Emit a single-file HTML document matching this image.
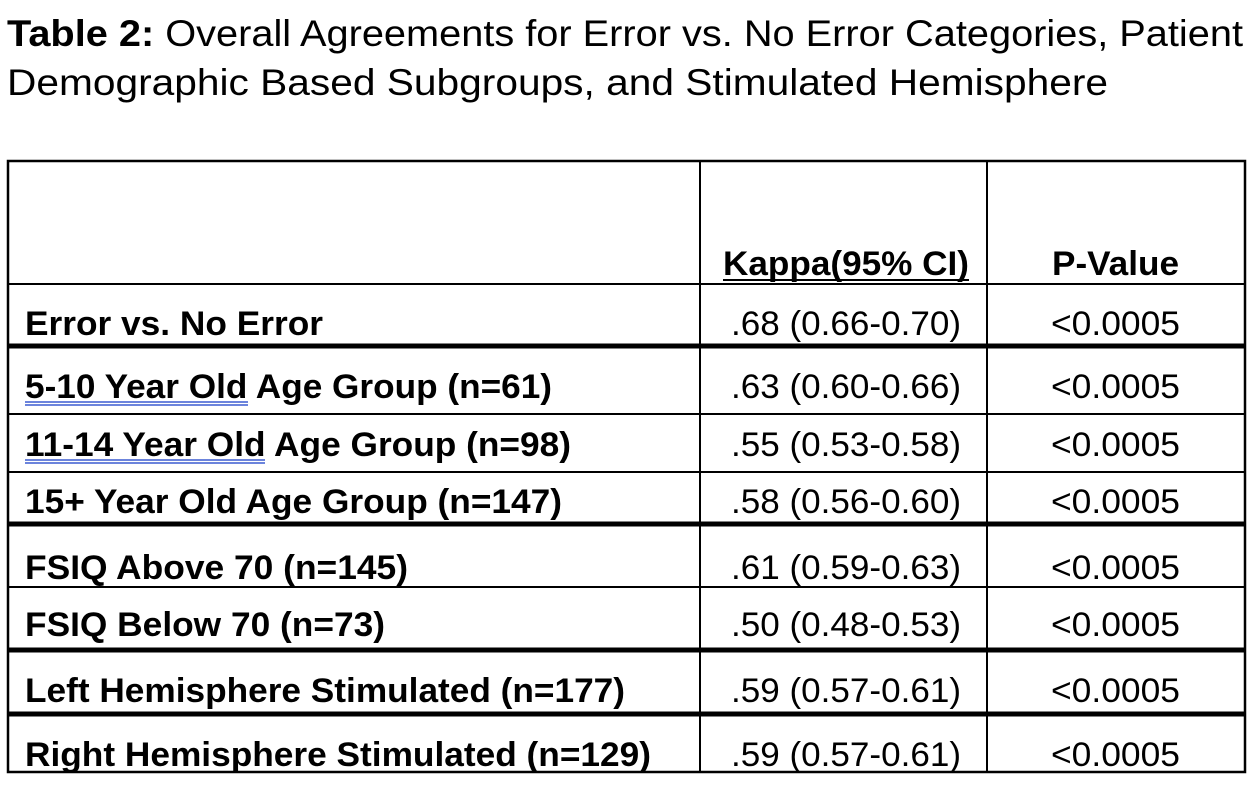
<!DOCTYPE html>
<html><head><meta charset="utf-8"><style>
html,body{margin:0;padding:0;background:#fff;}
svg{display:block}
text{font-family:"Liberation Sans",Arial,sans-serif;fill:#000}
.b{font-weight:bold;font-size:34px}
.n{font-size:34px}
</style></head><body>
<svg width="1258" height="786" xmlns="http://www.w3.org/2000/svg">
<text x="7" y="46" font-size="37" textLength="1236" lengthAdjust="spacingAndGlyphs"><tspan font-weight="bold">Table 2:</tspan> Overall Agreements for Error vs. No Error Categories, Patient</text>
<text x="7" y="95" font-size="37" textLength="1101" lengthAdjust="spacingAndGlyphs">Demographic Based Subgroups, and Stimulated Hemisphere</text>
<g stroke="#000" fill="none">
<rect x="8" y="161" width="1237" height="611" stroke-width="2.5"/>
<line x1="700" y1="161" x2="700" y2="772" stroke-width="2"/>
<line x1="987" y1="161" x2="987" y2="772" stroke-width="2"/>
<line x1="8" y1="284" x2="1245" y2="284" stroke-width="2"/>
<line x1="8" y1="346" x2="1245" y2="346" stroke-width="5"/>
<line x1="8" y1="414" x2="1245" y2="414" stroke-width="2"/>
<line x1="8" y1="472" x2="1245" y2="472" stroke-width="2"/>
<line x1="8" y1="524" x2="1245" y2="524" stroke-width="5"/>
<line x1="8" y1="587" x2="1245" y2="587" stroke-width="2"/>
<line x1="8" y1="650" x2="1245" y2="650" stroke-width="5"/>
<line x1="8" y1="714" x2="1245" y2="714" stroke-width="5"/>
</g>
<text class="b" x="723" y="275" textLength="246" lengthAdjust="spacingAndGlyphs">Kappa(95% CI)</text>
<line x1="723" y1="280" x2="969" y2="280" stroke="#000" stroke-width="2"/>
<text class="b" x="1052" y="275" textLength="127" lengthAdjust="spacingAndGlyphs">P-Value</text>
<text class="b" x="25" y="335" textLength="298" lengthAdjust="spacingAndGlyphs">Error vs. No Error</text>
<text class="b" x="25" y="398" textLength="527" lengthAdjust="spacingAndGlyphs">5-10 Year Old Age Group (n=61)</text>
<text class="b" x="25" y="456" textLength="546" lengthAdjust="spacingAndGlyphs">11-14 Year Old Age Group (n=98)</text>
<text class="b" x="25" y="513" textLength="537" lengthAdjust="spacingAndGlyphs">15+ Year Old Age Group (n=147)</text>
<text class="b" x="25" y="579" textLength="383" lengthAdjust="spacingAndGlyphs">FSIQ Above 70 (n=145)</text>
<text class="b" x="25" y="636" textLength="360" lengthAdjust="spacingAndGlyphs">FSIQ Below 70 (n=73)</text>
<text class="b" x="25" y="702" textLength="600" lengthAdjust="spacingAndGlyphs">Left Hemisphere Stimulated (n=177)</text>
<text class="b" x="25" y="766" textLength="626" lengthAdjust="spacingAndGlyphs">Right Hemisphere Stimulated (n=129)</text>
<g stroke="#3b5bd0" stroke-width="1.5">
<line x1="25" y1="402" x2="248" y2="402"/><line x1="25" y1="405" x2="248" y2="405"/>
<line x1="25" y1="460" x2="265" y2="460"/><line x1="25" y1="463" x2="265" y2="463"/>
</g>
<text class="n" x="731" y="335" textLength="230" lengthAdjust="spacingAndGlyphs">.68 (0.66-0.70)</text>
<text class="n" x="731" y="398" textLength="230" lengthAdjust="spacingAndGlyphs">.63 (0.60-0.66)</text>
<text class="n" x="731" y="456" textLength="230" lengthAdjust="spacingAndGlyphs">.55 (0.53-0.58)</text>
<text class="n" x="731" y="513" textLength="230" lengthAdjust="spacingAndGlyphs">.58 (0.56-0.60)</text>
<text class="n" x="731" y="579" textLength="230" lengthAdjust="spacingAndGlyphs">.61 (0.59-0.63)</text>
<text class="n" x="731" y="636" textLength="230" lengthAdjust="spacingAndGlyphs">.50 (0.48-0.53)</text>
<text class="n" x="731" y="702" textLength="230" lengthAdjust="spacingAndGlyphs">.59 (0.57-0.61)</text>
<text class="n" x="731" y="766" textLength="230" lengthAdjust="spacingAndGlyphs">.59 (0.57-0.61)</text>
<text class="n" x="1051" y="335" textLength="129" lengthAdjust="spacingAndGlyphs">&lt;0.0005</text>
<text class="n" x="1051" y="398" textLength="129" lengthAdjust="spacingAndGlyphs">&lt;0.0005</text>
<text class="n" x="1051" y="456" textLength="129" lengthAdjust="spacingAndGlyphs">&lt;0.0005</text>
<text class="n" x="1051" y="513" textLength="129" lengthAdjust="spacingAndGlyphs">&lt;0.0005</text>
<text class="n" x="1051" y="579" textLength="129" lengthAdjust="spacingAndGlyphs">&lt;0.0005</text>
<text class="n" x="1051" y="636" textLength="129" lengthAdjust="spacingAndGlyphs">&lt;0.0005</text>
<text class="n" x="1051" y="702" textLength="129" lengthAdjust="spacingAndGlyphs">&lt;0.0005</text>
<text class="n" x="1051" y="766" textLength="129" lengthAdjust="spacingAndGlyphs">&lt;0.0005</text>
</svg>
</body></html>
